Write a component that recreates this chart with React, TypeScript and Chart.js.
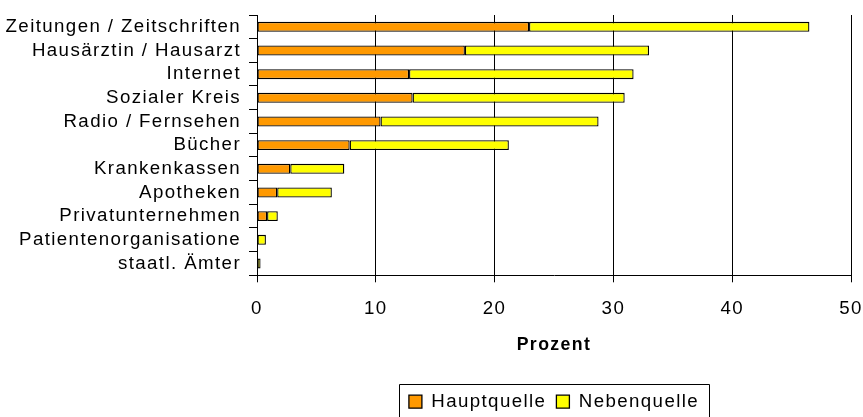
import React, { useEffect, useRef } from "react";
import { Chart, registerables } from "chart.js";

Chart.register(...registerables);

const categories = [
  "Zeitungen / Zeitschriften",
  "Hausärztin / Hausarzt",
  "Internet",
  "Sozialer Kreis",
  "Radio / Fernsehen",
  "Bücher",
  "Krankenkassen",
  "Apotheken",
  "Privatunternehmen",
  "Patientenorganisatione",
  "staatl. Ämter",
];

const hauptquelle = [22.9, 17.5, 12.8, 13.1, 10.4, 7.8, 2.8, 1.7, 0.85, null, null];
const nebenquelle = [23.6, 15.5, 18.9, 17.85, 18.35, 13.4, 4.55, 4.6, 0.9, 0.75, 0.3];

const xTicks = [0, 10, 20, 30, 40, 50];
const xTitle = "Prozent";
const seriesNames = ["Hauptquelle", "Nebenquelle"];

const FONT = "'Liberation Sans', Arial, sans-serif";

const spacingPlugin = {
  id: "spacing",
  beforeUpdate(chart: any) {
    chart.ctx.letterSpacing = "1.4px";
  },
  beforeDraw(chart: any) {
    chart.ctx.letterSpacing = "1.4px";
  },
};

const legendBoxPlugin = {
  id: "legendBox",
  afterDraw(chart: any) {
    const lg = chart.legend;
    if (!lg || !lg.legendHitBoxes || !lg.legendHitBoxes.length) return;
    const boxes = lg.legendHitBoxes;
    let minX = Infinity;
    let maxX = -Infinity;
    let top = Infinity;
    for (const h of boxes) {
      minX = Math.min(minX, h.left);
      maxX = Math.max(maxX, h.left + h.width);
      top = Math.min(top, h.top);
    }
    const ctx = chart.ctx;
    ctx.save();
    ctx.strokeStyle = "#000";
    ctx.lineWidth = 1;
    const l = Math.round(minX - 10) + 0.5;
    const r = Math.round(maxX + 10) + 0.5;
    const t = Math.round(top - 8) + 0.5;
    const b = chart.height + 5;
    ctx.beginPath();
    ctx.moveTo(l, b);
    ctx.lineTo(l, t);
    ctx.lineTo(r, t);
    ctx.lineTo(r, b);
    ctx.stroke();
    ctx.restore();
  },
};

export default function App() {
  const ref = useRef<HTMLCanvasElement | null>(null);

  useEffect(() => {
    document.body.style.margin = "0";
    const canvas = ref.current;
    if (!canvas) return;
    Chart.defaults.font.family = FONT;
    Chart.defaults.font.size = 18.7;
    Chart.defaults.color = "#000";

    const chart = new Chart(canvas, {
      type: "bar",
      data: {
        labels: categories,
        datasets: [
          {
            label: seriesNames[0],
            data: hauptquelle,
            backgroundColor: "#FF9900",
            borderColor: "#000",
            borderWidth: 1.3,
            borderSkipped: false,
            barPercentage: 0.42,
            categoryPercentage: 1,
          },
          {
            label: seriesNames[1],
            data: nebenquelle,
            backgroundColor: "#FFFF00",
            borderColor: "#000",
            borderWidth: 1.3,
            borderSkipped: false,
            barPercentage: 0.42,
            categoryPercentage: 1,
          },
        ],
      },
      options: {
        indexAxis: "y",
        animation: false,
        responsive: false,
        devicePixelRatio: 1,
        layout: { padding: { top: 15, right: 0, left: 0, bottom: -4 } },
        plugins: {
          tooltip: { enabled: false },
          legend: {
            position: "bottom",
            fullSize: false,
            labels: {
              boxWidth: 13,
              boxHeight: 13,
              padding: 10,
              color: "#000",
              font: { size: 18.7, family: FONT },
            },
          },
        },
        scales: {
          x: {
            type: "linear",
            stacked: true,
            min: 0,
            max: 50,
            afterBuildTicks(scale: any) {
              scale.ticks = xTicks.map((v) => ({ value: v }));
            },
            afterFit(scale: any) {
              scale.height = 107;
              scale.paddingLeft = 0;
              scale.paddingRight = 12;
            },
            grid: {
              color: "#000",
              lineWidth: 1,
              drawTicks: true,
              tickLength: 7,
              tickColor: "#000",
            },
            border: { display: true, color: "#000", width: 1 },
            ticks: {
              padding: 15,
              color: "#000",
              font: { size: 18.7, family: FONT },
              maxRotation: 0,
            },
            title: {
              display: true,
              text: xTitle,
              color: "#000",
              font: { size: 17.7, weight: "bold", family: FONT },
              padding: { top: 0, bottom: 27 },
            },
          },
          y: {
            type: "category",
            stacked: true,
            afterFit(scale: any) {
              scale.width = 257;
              scale.paddingTop = 0;
              scale.paddingBottom = 0;
            },
            grid: {
              drawOnChartArea: false,
              drawTicks: true,
              tickLength: 8,
              color: "#000",
              tickColor: "#000",
              offset: true,
            },
            border: { display: true, color: "#000", width: 1 },
            ticks: {
              padding: 8,
              color: "#000",
              font: { size: 18.7, family: FONT },
              autoSkip: false,
            },
          },
        },
      },
      plugins: [spacingPlugin, legendBoxPlugin],
    } as any);

    return () => chart.destroy();
  }, []);

  return (
    <div style={{ width: 863, height: 417, position: "relative" }}>
      <canvas ref={ref} width={863} height={417} style={{ display: "block" }} />
    </div>
  );
}
